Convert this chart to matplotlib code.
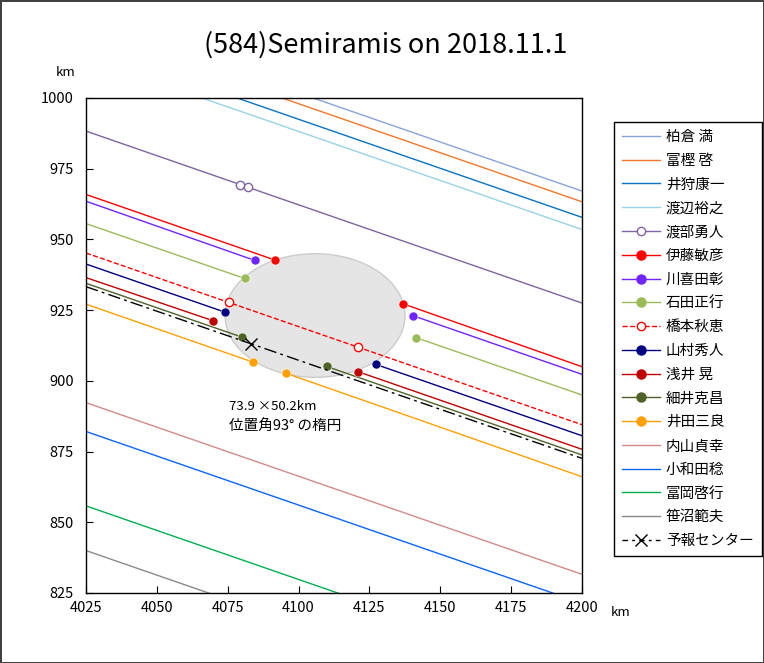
import matplotlib.pyplot as plt
from matplotlib.patches import Ellipse
from matplotlib.lines import Line2D

plt.rcParams['font.family'] = ['Noto Sans CJK JP', 'DejaVu Sans']

# observers (legend order)
names = ['柏倉 満', '富樫 啓', '井狩康一', '渡辺裕之', '渡部勇人', '伊藤敏彦', '川喜田彰',
         '石田正行', '橋本秋恵', '山村秀人', '浅井 晃', '細井克昌', '井田三良',
         '内山貞幸', '小和田稔', '冨岡啓行', '笹沼範夫']
colors = ['#86a3dc', '#f07828', '#0873c4', '#9ad2e6', '#8064a2', '#ff0000', '#7024ff',
          '#9bbb59', '#ff0000', '#000080', '#c00000', '#4f6228', '#ffa000',
          '#d48a8a', '#0a66ff', '#00b050', '#8a8a8a']
# chord y at x=4025 and x=4200 (km)
y_left = [1027.8, 1024.0, 1018.5, 1014.2, 988.3, 965.9, 963.5,
          955.6, 945.2, 941.3, 936.5, 934.5, 927.1,
          892.3, 882.1, 855.8, 840.0]
y_right = [967.1, 963.3, 957.8, 953.5, 927.5, 905.0, 902.3,
           895.0, 884.5, 880.6, 875.8, 873.8, 866.1,
           831.6, 821.4, 795.1, 779.3]
# disappearance / reappearance points (None = miss)
dis = [None, None, None, None, (4079.3, 969.2), (4091.7, 942.7), (4084.5, 942.6),
       (4081.0, 936.2), (4075.6, 927.8), (4074.0, 924.3), (4069.7, 921.3), (4079.9, 915.5),
       (4084.0, 906.6), None, None, None, None]
rea = [None, None, None, None, (4082.3, 968.5), (4136.7, 927.3), (4140.2, 923.1),
       (4141.4, 915.3), (4120.9, 911.9), (4127.3, 905.8), (4121.1, 903.2), (4109.9, 905.1),
       (4095.5, 902.7), None, None, None, None]
open_marker = ['渡部勇人', '橋本秋恵']
dashed = ['橋本秋恵']

# prediction centre line
pred_y = [933.3, 872.6]
pred_center = (4083.2, 913.1)

# fitted ellipse
ell_center = (4105.8, 923.1)
ell_w, ell_h = 63.5, 43.7

x0, x1 = 4025, 4200
dashdot = (0, (9, 3, 2, 3))

fig = plt.figure(figsize=(7.64, 6.63), dpi=100, edgecolor='#404040', linewidth=2)
ax = fig.add_axes([86 / 764, 1 - 593 / 663, 496 / 764, 495 / 663])

ax.add_patch(Ellipse(ell_center, ell_w, ell_h, facecolor='#e4e5e4',
                     edgecolor='#cccccc', lw=1.0, zorder=1))

handles = []
for i, name in enumerate(names):
    c = colors[i]
    ls = '--' if name in dashed else '-'
    d, r = dis[i], rea[i]
    if d is None or name in open_marker:
        ax.plot([x0, x1], [y_left[i], y_right[i]], color=c, lw=1.0, ls=ls, zorder=2)
    else:
        ax.plot([x0, d[0]], [y_left[i], d[1]], color=c, lw=1.0, zorder=2)
        ax.plot([r[0], x1], [r[1], y_right[i]], color=c, lw=1.0, zorder=2)
    if d is not None:
        if name in open_marker:
            ax.plot([d[0], r[0]], [d[1], r[1]], 'o', ms=6, mfc='white', mec=c,
                    mew=1.0, ls='none', zorder=3)
            handles.append(Line2D([], [], color=c, lw=1.0, ls=ls, marker='o', ms=6,
                                  mfc='white', mec=c, label=name))
        else:
            ax.plot([d[0], r[0]], [d[1], r[1]], 'o', ms=6.5, color=c, mec='white',
                    mew=0.4, ls='none', zorder=3)
            handles.append(Line2D([], [], color=c, lw=1.0, marker='o', ms=6.5,
                                  label=name))
    else:
        handles.append(Line2D([], [], color=c, lw=1.0, label=name))

ax.plot([x0, x1], pred_y, color='black', lw=1.0, ls=dashdot, zorder=4)
ax.plot([pred_center[0]], [pred_center[1]], marker='x', color='black', ms=8, mew=1.0, zorder=5)
handles.append(Line2D([], [], color='black', lw=1.0, ls=(0, (4, 3, 2, 3)), marker='x', ms=8,
                      label='予報センター'))

ax.text(4075.5, 891.0, '73.9 ×50.2km', fontsize=9.5, va='center')
ax.text(4075.5, 884.0, '位置角93° の楕円', fontsize=10.5, va='center')

ax.set_xlim(4025, 4200)
ax.set_ylim(825, 1000)
ax.set_xticks(range(4025, 4201, 25))
ax.set_yticks(range(825, 1001, 25))
ax.tick_params(direction='in', length=5, labelsize=10.5, top=False, right=False)
ax.tick_params(axis='y', pad=9)
ax.tick_params(axis='x', pad=6)
for s in ax.spines.values():
    s.set_linewidth(1.0)

fig.text(386 / 764, 1 - 45 / 663, '(584)Semiramis on 2018.11.1', fontsize=19.5,
         ha='center', va='center')
fig.text(66 / 764, 1 - 72 / 663, 'km', fontsize=9.5, ha='center', va='center')
fig.text(621 / 764, 1 - 612 / 663, 'km', fontsize=9.5, ha='center', va='center')

leg = fig.legend(handles=handles, loc='upper left', bbox_to_anchor=(614 / 764, 1 - 122 / 663),
                 fontsize=10.5, frameon=True, fancybox=False, edgecolor='black',
                 framealpha=1, borderaxespad=0, handlelength=2.6, labelspacing=0.67,
                 handletextpad=0.4, borderpad=0.55)
leg.get_frame().set_linewidth(1.0)

fig.savefig('out.png', dpi=100)
